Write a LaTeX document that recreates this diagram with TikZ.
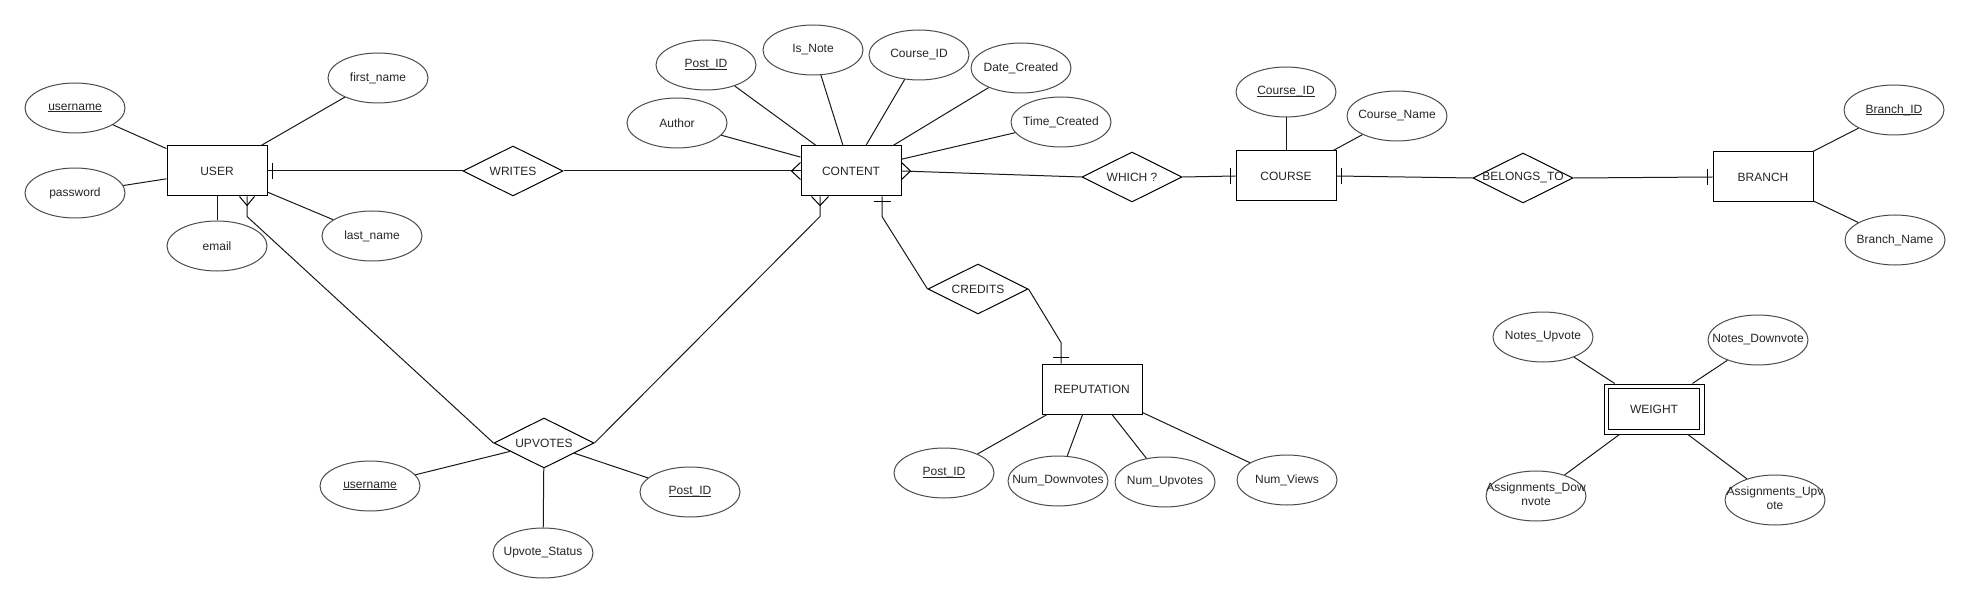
\documentclass[tikz,border=0pt]{standalone}
\usepackage{fontspec}
\setmainfont{Liberation Sans}
\usetikzlibrary{shapes.geometric,calc}
\newcommand\zt[1]{\makebox[0pt]{#1}}
\newcommand\ulx[1]{\setbox0\hbox{#1}\rlap{\rule[-1.8pt]{\wd0}{0.9pt}}\box0}
\begin{document}
\begin{tikzpicture}[x=1pt,y=-1pt, line width=1pt,
 every node/.style={font=\fontsize{12}{14}\selectfont, inner sep=0pt, text=black!85},
 ent/.style={rectangle, draw=black, minimum width=100pt, minimum height=50pt},
 attr/.style={ellipse, draw=black!70, minimum width=100pt, minimum height=50pt},
 rel/.style={diamond, draw=black, minimum width=100pt, minimum height=50pt},
 conn/.style={draw=black!90, line width=1pt},
 erm/.style={draw=black, line width=1pt}
]
\useasboundingbox (0,0) rectangle (1971,604);
\fill[white] (0,0) rectangle (1971,604);

% USER
\node[ent] (user) at (217,171) {\zt{USER}};
\node[attr] (uname) at (75,108) {\zt{\ulx{username}}};
\node[attr] (pwd) at (75,193) {\zt{password}};
\node[attr] (email) at (217,246) {\zt{email}};
\node[attr] (fname) at (378,78) {\zt{first\_name}};
\node[attr] (lname) at (372,236) {\zt{last\_name}};

% WRITES
\node[rel] (writes) at (513,171) {\zt{WRITES}};

% CONTENT
\node[ent] (content) at (851,171) {\zt{CONTENT}};
\node[attr] (cpost) at (706,65) {\zt{\ulx{Post\_ID}}};
\node[attr] (isnote) at (813,50) {\zt{Is\_Note}};
\node[attr] (author) at (677,123) {\zt{Author}};
\node[attr] (ccid) at (919,55) {\zt{Course\_ID}};
\node[attr] (date) at (1021,68) {\zt{Date\_Created}};
\node[attr] (time) at (1061,122) {\zt{Time\_Created}};

% WHICH
\node[rel] (which) at (1132,177) {\zt{WHICH ?}};

% COURSE
\node[ent] (course) at (1286,176) {\zt{COURSE}};
\node[attr] (courseid) at (1286,92) {\zt{\ulx{Course\_ID}}};
\node[attr] (coursename) at (1397,116) {\zt{Course\_Name}};

% BELONGS_TO
\node[rel] (belongs) at (1523,178) {\zt{BELONGS\_TO}};

% BRANCH
\node[ent] (branch) at (1763,177) {\zt{BRANCH}};
\node[attr] (branchid) at (1894,110) {\zt{\ulx{Branch\_ID}}};
\node[attr] (branchname) at (1895,240) {\zt{Branch\_Name}};

% CREDITS
\node[rel] (credits) at (978,289) {\zt{CREDITS}};

% REPUTATION
\node[ent] (rep) at (1092,389) {\zt{REPUTATION}};
\node[attr] (rpost) at (944,473) {\zt{\ulx{Post\_ID}}};
\node[attr] (ndown) at (1058,481) {\zt{Num\_Downvotes}};
\node[attr] (nup) at (1165,482) {\zt{Num\_Upvotes}};
\node[attr] (nviews) at (1287,480) {\zt{Num\_Views}};

% UPVOTES
\node[rel] (upv) at (544,443) {\zt{UPVOTES}};
\node[attr] (uuser) at (370,486) {\zt{\ulx{username}}};
\node[attr] (upost) at (690,492) {\zt{\ulx{Post\_ID}}};
\node[attr] (ustatus) at (543,553) {\zt{Upvote\_Status}};

% WEIGHT
\node[ent] (weight) at (1654,409) {\zt{WEIGHT}};
\draw[erm] ([shift={(5pt,-5pt)}]weight.north west) rectangle ([shift={(-5pt,5pt)}]weight.south east);
\node[attr] (nu) at (1543,337) {\zt{Notes\_Upvote}};
\node[attr] (nd) at (1758,340) {\zt{Notes\_Downvote}};
\node[attr] (ad) at (1536,496) {\zt{\raisebox{4pt}{\begin{tabular}{@{}c@{}}Assignments\_Dow\\nvote\end{tabular}}}};
\node[attr] (au) at (1775,500) {\zt{\raisebox{4pt}{\begin{tabular}{@{}c@{}}Assignments\_Upv\\ote\end{tabular}}}};

% attribute links
\foreach \a/\b in {uname/user, pwd/user, email/user, fname/user, lname/user,
  cpost/content, isnote/content, author/content, ccid/content, date/content, time/content,
  courseid/course, coursename/course, branchid/branch, branchname/branch,
  rpost/rep, ndown/rep, nup/rep, nviews/rep,
  uuser/upv, upost/upv, ustatus/upv,
  nu/weight, nd/weight, ad/weight, au/weight}
  \draw[conn] (\a) -- (\b);

% relationship links
\draw[conn] (user.east) -- (writes.west);
\draw[conn] (writes.east) -- (content.west);
\draw[conn] (content.east) -- (which.west);
\draw[conn] (which.east) -- (course.west);
\draw[conn] (course.east) -- (belongs.west);
\draw[conn] (belongs.east) -- (branch.west);
\draw[conn] (upv.west) -- ([xshift=30pt,yshift=-20pt]user.south) -- ([xshift=30pt]user.south);
\draw[conn] (upv.east) -- ([xshift=-31pt,yshift=-20pt]content.south) -- ([xshift=-31pt]content.south);
\draw[conn] (credits.west) -- ([xshift=31pt,yshift=-20pt]content.south) -- ([xshift=31pt]content.south);
\draw[conn] (credits.east) -- ([xshift=-31pt,yshift=21pt]rep.north) -- ([xshift=-31pt]rep.north);

% one marks (bars)
\draw[erm] ([xshift=5pt,yshift=8pt]user.east) -- ([xshift=5pt,yshift=-8pt]user.east);
\draw[erm] ([xshift=22.5pt,yshift=-5pt]content.south) -- ([xshift=39.5pt,yshift=-5pt]content.south);
\draw[erm] ([xshift=-5pt,yshift=8pt]course.west) -- ([xshift=-5pt,yshift=-8pt]course.west);
\draw[erm] ([xshift=5pt,yshift=8pt]course.east) -- ([xshift=5pt,yshift=-8pt]course.east);
\draw[erm] ([xshift=-5pt,yshift=8pt]branch.west) -- ([xshift=-5pt,yshift=-8pt]branch.west);
\draw[erm] ([xshift=-39pt,yshift=6pt]rep.north) -- ([xshift=-23pt,yshift=6pt]rep.north);

% many marks (crow's feet)
\draw[erm] ([yshift=8.5pt]content.west) -- ([xshift=-9pt]content.west) -- ([yshift=-8.5pt]content.west);
\draw[erm] ([yshift=8.5pt]content.east) -- ([xshift=9pt]content.east) -- ([yshift=-8.5pt]content.east);
\draw[erm] ([xshift=-39.5pt]content.south) -- ([xshift=-31pt,yshift=-9pt]content.south) -- ([xshift=-22.5pt]content.south);
\draw[erm] ([xshift=22.5pt]user.south) -- ([xshift=30pt,yshift=-9pt]user.south) -- ([xshift=37.5pt]user.south);
\end{tikzpicture}
\end{document}
